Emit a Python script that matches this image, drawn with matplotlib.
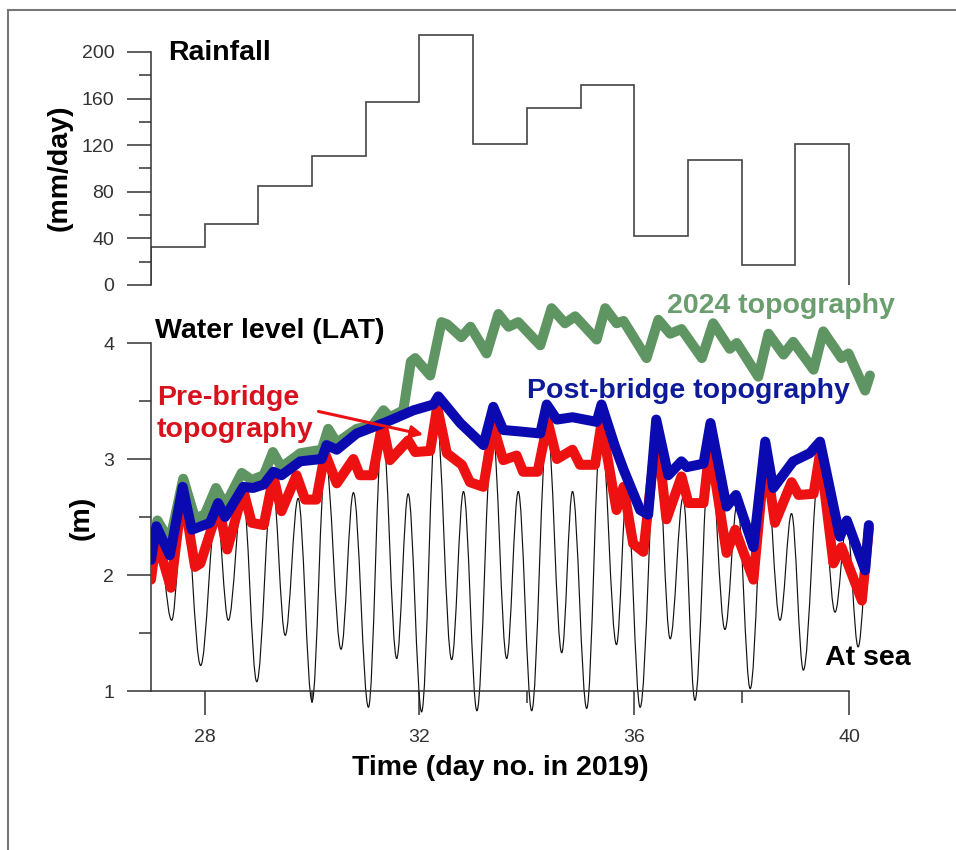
import matplotlib
matplotlib.use("Agg")
import matplotlib.pyplot as plt
from matplotlib.lines import Line2D
from matplotlib.path import Path
from matplotlib.patches import PathPatch

plt.rcParams['font.family'] = ['Liberation Sans', 'DejaVu Sans']

# rainfall, one value per day from day 27 to day 40
rain_edges = [27, 28, 29, 30, 31, 32, 33, 34, 35, 36, 37, 38, 39, 40]
rain_mm = [33, 52, 85, 111, 157, 215, 121, 152, 172, 42, 107, 17, 121]

# tide at sea (highs and lows)
sea_t = [27.0, 27.12, 27.385, 27.62, 27.925, 28.22, 28.44, 28.71, 28.97, 29.26,
         29.50, 29.74, 30.00, 30.25, 30.54, 30.77, 31.05, 31.31, 31.576, 31.79,
         32.04, 32.31, 32.60, 32.82, 33.07, 33.36, 33.625, 33.84, 34.09, 34.38,
         34.65, 34.85, 35.115, 35.38, 35.67, 35.86, 36.11, 36.42, 36.67, 36.91,
         37.13, 37.41, 37.69, 37.92, 38.16, 38.44, 38.715, 38.93, 39.15, 39.46,
         39.74, 39.96, 40.17, 40.37]
sea_v = [1.95, 2.38, 1.61, 2.72, 1.22, 2.58, 1.61, 2.72, 1.08, 2.82,
         1.48, 2.66, 0.91, 3.00, 1.36, 2.71, 0.86, 3.30, 1.28, 2.70,
         0.82, 3.42, 1.27, 2.72, 0.83, 3.27, 1.28, 2.72, 0.83, 3.31,
         1.33, 2.72, 0.85, 3.30, 1.40, 2.72, 0.86, 3.22, 1.45, 2.67,
         0.92, 3.12, 1.53, 2.62, 1.02, 3.04, 1.61, 2.53, 1.18, 3.04,
         1.68, 2.45, 1.38, 2.30]

# pre-bridge topography
pre_t = [27.0, 27.1, 27.37, 27.59, 27.82, 27.92, 28.26, 28.42, 28.72, 28.875,
         29.1, 29.28, 29.43, 29.71, 29.87, 30.08, 30.24, 30.46, 30.77, 30.89,
         31.13, 31.31, 31.45, 31.79, 31.92, 32.2, 32.33, 32.51, 32.79, 32.94,
         33.19, 33.375, 33.56, 33.81, 33.93, 34.2, 34.39, 34.56, 34.85, 34.99,
         35.27, 35.39, 35.67, 35.80, 35.98, 36.17, 36.42, 36.60, 36.88, 37.01,
         37.29, 37.41, 37.72, 37.88, 38.22, 38.44, 38.62, 38.93, 39.06, 39.34,
         39.46, 39.71, 39.86, 40.24, 40.37]
pre_v = [1.96, 2.32, 1.89, 2.73, 2.07, 2.10, 2.59, 2.22, 2.73, 2.45,
         2.43, 2.85, 2.55, 2.86, 2.65, 2.65, 3.05, 2.79, 3.00, 2.86,
         2.86, 3.31, 2.99, 3.16, 3.06, 3.07, 3.45, 3.05, 2.95, 2.80,
         2.76, 3.28, 2.99, 3.03, 2.89, 2.89, 3.32, 3.00, 3.08, 2.95,
         2.95, 3.31, 2.56, 2.76, 2.27, 2.20, 3.25, 2.48, 2.85, 2.62,
         2.62, 3.12, 2.19, 2.39, 1.96, 3.05, 2.45, 2.80, 2.69, 2.70,
         3.05, 2.10, 2.24, 1.78, 2.40]

# post-bridge topography
post_t = [27.0, 27.1, 27.35, 27.59, 27.76, 28.1, 28.25, 28.38, 28.72, 28.9,
          29.1, 29.28, 29.43, 29.78, 30.18, 30.27, 30.46, 30.83, 31.39, 31.89,
          32.26, 32.35, 32.76, 33.19, 33.375, 33.56, 33.81, 34.25, 34.37, 34.56,
          34.85, 35.30, 35.39, 35.64, 35.80, 36.11, 36.26, 36.41, 36.635, 36.88,
          36.98, 37.29, 37.42, 37.72, 37.895, 38.22, 38.44, 38.59, 38.96, 39.27,
          39.46, 39.83, 39.96, 40.30, 40.37]
post_v = [2.13, 2.42, 2.17, 2.76, 2.39, 2.45, 2.62, 2.50, 2.76, 2.75,
          2.78, 2.89, 2.86, 2.98, 3.00, 3.12, 3.08, 3.22, 3.32, 3.42,
          3.47, 3.54, 3.31, 3.12, 3.45, 3.25, 3.24, 3.22, 3.47, 3.34,
          3.36, 3.32, 3.47, 3.11, 2.91, 2.56, 2.52, 3.34, 2.86, 2.98,
          2.93, 2.96, 3.31, 2.59, 2.69, 2.24, 3.15, 2.75, 2.98, 3.05,
          3.15, 2.33, 2.47, 2.04, 2.43]

# 2024 topography
topo_t = [27.0, 27.12, 27.35, 27.6, 27.82, 28.0, 28.21, 28.38, 28.69, 28.875,
          29.1, 29.27, 29.43, 29.78, 30.18, 30.30, 30.46, 30.83, 31.13, 31.33,
          31.45, 31.70, 31.84, 31.92, 32.2, 32.41, 32.52, 32.78, 32.95, 33.25,
          33.47, 33.66, 33.84, 34.25, 34.46, 34.71, 34.90, 35.30, 35.46, 35.67,
          35.80, 36.23, 36.45, 36.67, 36.88, 37.26, 37.47, 37.78, 37.91, 38.31,
          38.50, 38.78, 38.96, 39.34, 39.52, 39.86, 39.99, 40.30, 40.39]
topo_v = [2.24, 2.47, 2.29, 2.83, 2.49, 2.52, 2.75, 2.60, 2.88, 2.82,
          2.86, 3.06, 2.93, 3.05, 3.08, 3.26, 3.14, 3.26, 3.29, 3.42,
          3.36, 3.42, 3.84, 3.87, 3.72, 4.18, 4.16, 4.05, 4.14, 3.91,
          4.25, 4.14, 4.18, 3.98, 4.30, 4.17, 4.23, 4.03, 4.30, 4.17,
          4.19, 3.87, 4.20, 4.08, 4.12, 3.87, 4.17, 3.95, 4.00, 3.71,
          4.08, 3.90, 4.01, 3.77, 4.10, 3.87, 3.91, 3.59, 3.72]

W, H = 956, 850
RED = '#ee1111'
BLUE = '#0a0ab0'
GREEN = '#5f9463'
INK = '#333333'


def fx(px):
    return px / W


def fy(py):
    return 1 - py / H


def smooth_path(t, v, k=0.36):
    # cubic bezier through the highs and lows, flat at each turning point
    verts = [(t[0], v[0])]
    codes = [Path.MOVETO]
    for i in range(len(t) - 1):
        dt = t[i + 1] - t[i]
        verts += [(t[i] + k * dt, v[i]), (t[i + 1] - k * dt, v[i + 1]),
                  (t[i + 1], v[i + 1])]
        codes += [Path.CURVE4] * 3
    return Path(verts, codes)


fig = plt.figure(figsize=(W / 100, H / 100), dpi=100)

# pixel layout: day 27 -> 151, day 40 -> 849 ; 1 m -> 691, 4 m -> 343
xpd = (849 - 151) / 13.0
ypm = (691 - 343) / 3.0
xl, xr = 27, 40.6
wl_lo, wl_hi = 0.7, 4.5
rpm = (285 - 52) / 200.0
r_hi = 220

ax_w = fig.add_axes([fx(151), fy(691 + (1 - wl_lo) * ypm),
                     (xr - xl) * xpd / W, (wl_hi - wl_lo) * ypm / H])
ax_r = fig.add_axes([fx(151), fy(285), (xr - xl) * xpd / W, r_hi * rpm / H])

for ax in (ax_w, ax_r):
    ax.set_facecolor('none')
    ax.set_xlim(xl, xr)
    for s in ('top', 'right'):
        ax.spines[s].set_visible(False)
    for s in ('left', 'bottom'):
        ax.spines[s].set_color(INK)
        ax.spines[s].set_linewidth(1.1)
    ax.tick_params(which='major', direction='out', length=17, width=1.1,
                   color=INK, labelcolor=INK, labelsize=14, pad=9.5)
    ax.tick_params(which='minor', direction='out', length=8.5, width=1.1,
                   color=INK)

# rainfall panel
ax_r.stairs(rain_mm, rain_edges, color='#444444', lw=1.2)
ax_r.set_ylim(0, r_hi)
ax_r.spines['bottom'].set_visible(False)
ax_r.spines['left'].set_bounds(0, 200)
ax_r.set_xticks([])
ax_r.set_yticks(range(0, 201, 40))
ax_r.set_yticks(range(20, 200, 40), minor=True)

# water level panel
ax_w.add_patch(PathPatch(smooth_path(sea_t, sea_v), fill=False,
                         ec='#111111', lw=0.85, zorder=2))
thick = dict(lw=7.2, solid_joinstyle='round', solid_capstyle='round')
ax_w.plot(pre_t, pre_v, color=RED, zorder=3, **thick)
ax_w.plot(topo_t, topo_v, color=GREEN, zorder=4, **thick)
ax_w.plot(post_t, post_v, color=BLUE, zorder=5, **thick)
ax_w.set_ylim(wl_lo, wl_hi)
ax_w.spines['left'].set_bounds(1, 4)
ax_w.spines['bottom'].set_position(('data', 1))
ax_w.spines['bottom'].set_bounds(27, 40)
ax_w.set_yticks([1, 2, 3, 4])
ax_w.set_yticks([1.5, 2.5, 3.5], minor=True)
ax_w.set_xticks([28, 32, 36, 40])
ax_w.set_xticks([30, 34, 38], minor=True)
ax_w.tick_params(axis='x', which='major', pad=10)

ax_w.annotate('', xy=(32.07, 3.21), xytext=(30.12, 3.41),
              arrowprops=dict(arrowstyle='-|>', color=RED, lw=2.2,
                              mutation_scale=18, shrinkA=0, shrinkB=0),
              zorder=6)

bold = dict(fontsize=20.5, fontweight='bold')
fig.text(fx(168), fy(60), 'Rainfall', va='baseline', ha='left', **bold)
fig.text(fx(60), fy(168), '(mm/day)', va='center', ha='center', rotation=90, **bold)
fig.text(fx(82), fy(518), '(m)', va='center', ha='center', rotation=90, **bold)
fig.text(fx(155), fy(338), 'Water level (LAT)', va='baseline', ha='left', **bold)
fig.text(fx(157), fy(405), 'Pre-bridge', va='baseline', ha='left', color='#d8121c', **bold)
fig.text(fx(157), fy(437), 'topography', va='baseline', ha='left', color='#d8121c', **bold)
fig.text(fx(527), fy(398), 'Post-bridge topography', va='baseline', ha='left',
         color='#0d1a9a', **bold)
fig.text(fx(667), fy(313), '2024 topography', va='baseline', ha='left',
         color='#6a9e6e', **bold)
fig.text(fx(825), fy(665), 'At sea', va='baseline', ha='left', **bold)
fig.text(fx(500), fy(775), 'Time (day no. in 2019)', va='baseline', ha='center', **bold)

# outer frame (left and top edges only are visible)
fig.add_artist(Line2D([fx(8), fx(8)], [fy(10), 0], color='#777777', lw=1.5))
fig.add_artist(Line2D([fx(8), 1], [fy(10), fy(10)], color='#777777', lw=1.5))

fig.savefig('out.png', dpi=100)
